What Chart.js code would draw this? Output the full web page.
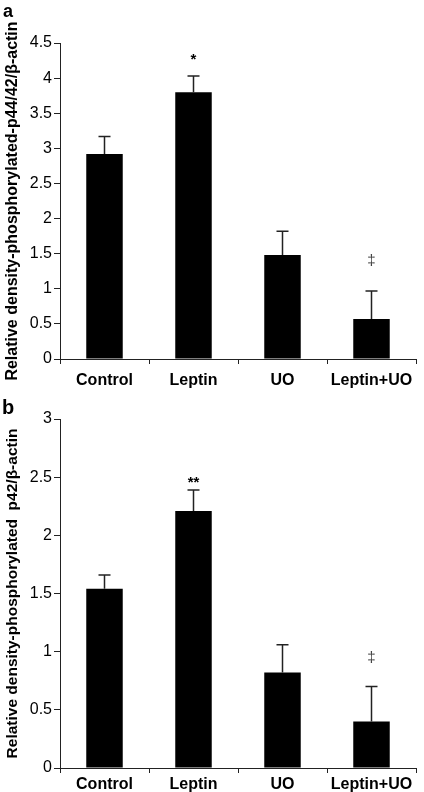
<!DOCTYPE html>
<html>
<head>
<meta charset="utf-8">
<script src="https://cdn.jsdelivr.net/npm/chart.js@4.4.0/dist/chart.umd.min.js"></script>
<style>
  body { margin: 0; background: #fff; width: 424px; height: 792px; overflow: hidden; position: relative; font-family: "Liberation Sans", Arial, sans-serif; }
  .painel { position: absolute; left: 0; }
  .painel canvas { display: block; }
  .letra { position: absolute; font-weight: bold; color: #000; line-height: 1; }
</style>
</head>
<body>
<div class="painel" style="top:0"><canvas id="graficoA" width="424" height="392"></canvas></div>
<div class="painel" style="top:392px"><canvas id="graficoB" width="424" height="400"></canvas></div>
<div class="letra" style="left:3px; top:2px; font-size:18px">a</div>
<div class="letra" style="left:2px; top:397px; font-size:20px">b</div>

<script>
const categorias = ['Control', 'Leptin', 'UO', 'Leptin+UO'];

// painel a: p44/42
const mediasA = [2.92, 3.80, 1.48, 0.57];
const errosA = [0.25, 0.23, 0.34, 0.40];
const marcasA = ['', '*', '', '‡'];
const alturaMarcasA = [null, 4.3, null, 1.4];
const maxA = 4.5;
const tituloA = 'Relative density-phosphorylated-p44/42/β-actin';

// painel b: p42
const mediasB = [1.54, 2.21, 0.82, 0.40];
const errosB = [0.12, 0.18, 0.24, 0.30];
const marcasB = ['', '**', '', '‡'];
const alturaMarcasB = [null, 2.48, null, 0.95];
const maxB = 3;
const tituloB = 'Relative density-phosphorylated  p42/β-actin';

const fonte = '"Liberation Sans", Arial, sans-serif';

function barrasErro(medias, erros, marcas, alturas) {
  return {
    id: 'barrasErro',
    afterDatasetsDraw(chart) {
      const ctx = chart.ctx;
      const y = chart.scales.y;
      const meta = chart.getDatasetMeta(0);
      ctx.save();
      ctx.strokeStyle = '#222';
      ctx.lineWidth = 1.5;
      meta.data.forEach((barra, i) => {
        const topo = y.getPixelForValue(medias[i] + erros[i]);
        ctx.beginPath();
        ctx.moveTo(barra.x, barra.y);
        ctx.lineTo(barra.x, topo);
        ctx.moveTo(barra.x - 6, topo);
        ctx.lineTo(barra.x + 6, topo);
        ctx.stroke();
        if (marcas[i]) {
          const ehAsterisco = marcas[i].indexOf('*') >= 0;
          ctx.fillStyle = ehAsterisco ? '#000' : '#444';
          ctx.font = (ehAsterisco ? 'bold 15px ' : '15px ') + fonte;
          ctx.textAlign = 'center';
          ctx.textBaseline = 'middle';
          ctx.fillText(marcas[i], barra.x, y.getPixelForValue(alturas[i]) + (ehAsterisco ? 3 : 0));
        }
      });
      ctx.restore();
    }
  };
}

function criarGrafico(id, medias, erros, marcas, alturas, maxY, titulo, tamTitulo, topo, alturaEixoX, padX) {
  const ctx = document.getElementById(id).getContext('2d');
  return new Chart(ctx, {
    type: 'bar',
    data: {
      labels: categorias,
      datasets: [{
        data: medias,
        backgroundColor: '#000',
        borderWidth: 0,
        barPercentage: 0.41,
        categoryPercentage: 1
      }]
    },
    options: {
      responsive: false,
      animation: false,
      devicePixelRatio: 1,
      layout: { padding: { top: topo, right: 8, left: 0, bottom: 0 } },
      plugins: {
        legend: { display: false },
        tooltip: { enabled: false }
      },
      scales: {
        x: {
          ticks: { color: '#000', font: { family: fonte, size: 16, weight: 'bold' }, padding: padX, maxRotation: 0 },
          grid: { drawOnChartArea: false, drawTicks: true, tickLength: 5, color: '#222', offset: true },
          border: { color: '#222', width: 1 },
          afterFit(scale) { scale.height = alturaEixoX; }
        },
        y: {
          min: 0,
          max: maxY,
          ticks: {
            stepSize: 0.5, color: '#000', font: { family: fonte, size: 16 }, padding: 2,
            callback: valor => String(Number(valor.toFixed(1)))
          },
          grid: { drawOnChartArea: false, drawTicks: true, tickLength: 6, color: '#222' },
          border: { color: '#222', width: 1 },
          title: { display: true, text: titulo, color: '#000', font: { family: fonte, size: tamTitulo, weight: 'bold' }, padding: { top: 3, bottom: 0 } },
          afterFit(scale) { scale.width = 60; }
        }
      }
    },
    plugins: [barrasErro(medias, erros, marcas, alturas)]
  });
}

criarGrafico('graficoA', mediasA, errosA, marcasA, alturaMarcasA, maxA, tituloA, 16, 43, 33, 7);
criarGrafico('graficoB', mediasB, errosB, marcasB, alturaMarcasB, maxB, tituloB, 15.5, 27, 24, 2);
</script>
</body>
</html>
